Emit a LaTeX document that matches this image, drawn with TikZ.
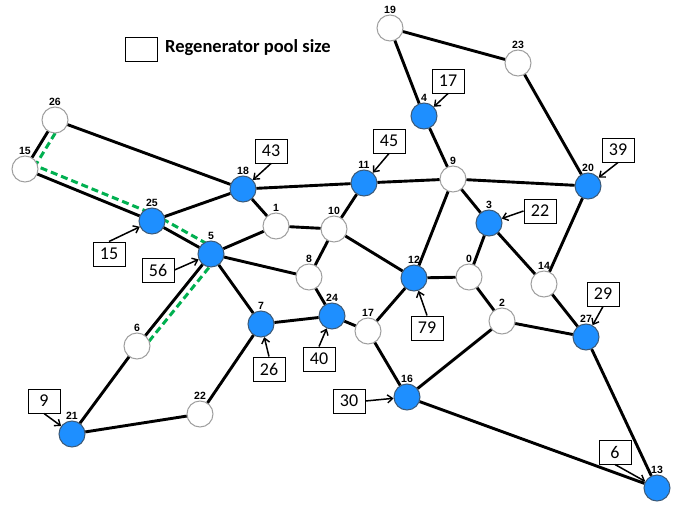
\documentclass[tikz,border=0pt]{standalone}
\usepackage{fontspec}
\setmainfont{Carlito}
\newfontfamily\labfont{Liberation Sans}
\usetikzlibrary{arrows.meta,calc}
\definecolor{nblue}{HTML}{1E8FFF}
\definecolor{nblueedge}{HTML}{3C5A78}
\definecolor{ngreen}{HTML}{00B050}
\tikzset{
  wnode/.style={circle,minimum size=26pt,inner sep=0pt,draw=gray!75,fill=white,line width=1pt,
     label={[label distance=0.5pt,inner sep=0pt,font=\labfont\bfseries\fontsize{10.5}{10.5}\selectfont]above:#1}},
  bnode/.style={circle,minimum size=26pt,inner sep=0pt,draw=nblueedge,fill=nblue,line width=1pt,
     label={[label distance=0.5pt,inner sep=0pt,font=\labfont\bfseries\fontsize{10.5}{10.5}\selectfont]above:#1}},
  pool/.style={rectangle,draw=black,line width=1pt,minimum width=32pt,minimum height=24pt,inner sep=0pt,
     font=\fontsize{18}{18}\selectfont},
  link/.style={line width=2.9pt,black},
  arr/.style={line width=1.5pt,-{Straight Barb[length=5pt,width=8pt,line width=1.4pt]}},
  gpath/.style={line width=3pt,ngreen,dash pattern=on 7pt off 4pt}
}
\begin{document}
\begin{tikzpicture}[x=1pt,y=-1pt]
\useasboundingbox (0,0) rectangle (686,506);
% green dashed path (under nodes)
\coordinate (g1) at (61,123.7);
\coordinate (g2) at (35.3,165.6);
\coordinate (g3) at (155,214.7);
\coordinate (g4) at (221.6,252);
\coordinate (g5) at (142.4,349.4);
\draw[gpath] (g1) -- (g2) -- (g3) -- (g4) -- (g5);
% nodes
\node[wnode=19] (n19) at (390,28) {};
\node[wnode=23] (n23) at (518,63) {};
\node[bnode=4]  (n4)  at (424,116) {};
\node[wnode=9]  (n9)  at (453,179) {};
\node[bnode=20] (n20) at (588,186) {};
\node[bnode=3]  (n3)  at (489,223) {};
\node[wnode=14] (n14) at (544,284) {};
\node[wnode=0]  (n0)  at (469,277) {};
\node[bnode=12] (n12) at (414,278) {};
\node[wnode=2]  (n2)  at (502,321) {};
\node[bnode=27] (n27) at (586,337) {};
\node[bnode=13] (n13) at (657,488) {};
\node[bnode=16] (n16) at (407,397) {};
\node[wnode=17] (n17) at (368,331) {};
\node[bnode=24] (n24) at (332,316) {};
\node[bnode=7]  (n7)  at (261,324) {};
\node[wnode=8]  (n8)  at (309,277) {};
\node[wnode=10] (n10) at (334,229) {};
\node[wnode=1]  (n1)  at (276,226) {};
\node[bnode=11] (n11) at (364,183) {};
\node[bnode=18] (n18) at (243,189) {};
\node[bnode=5]  (n5)  at (211,254) {};
\node[bnode=25] (n25) at (152,221) {};
\node[wnode=26] (n26) at (55,120) {};
\node[wnode=15] (n15) at (25,169) {};
\node[wnode=6]  (n6)  at (137,346) {};
\node[bnode=21] (n21) at (72,434) {};
\node[wnode=22] (n22) at (200,414) {};
% links
\foreach \a/\b in {19/4,19/23,23/20,4/9,9/20,9/11,9/3,9/12,20/14,3/0,3/14,14/27,0/12,0/2,2/27,2/16,27/13,16/13,16/17,17/12,17/24,24/7,24/8,8/10,8/5,10/11,10/12,10/1,1/5,1/18,18/11,18/25,18/26,25/15,25/5,26/15,5/7,5/6,6/21,21/22,22/7}
  \draw[link] (n\a) -- (n\b);
% pool boxes
\node[pool] (p43) at (271,151) {43};
\node[pool] (p45) at (389,141) {45};
\node[pool] (p15) at (109,254) {15};
\node[pool] (p56) at (158,270) {56};
\node[pool] (p17) at (448,81) {17};
\node[pool] (p39) at (618,150) {39};
\node[pool] (p22) at (540,211) {22};
\node[pool] (p29) at (603,294) {29};
\node[pool] (p79) at (427,328) {79};
\node[pool] (p40) at (319,359) {40};
\node[pool] (p30) at (349,401) {30};
\node[pool] (p6)  at (615,452) {6};
\node[pool] (p26) at (269,369) {26};
\node[pool] (p9)  at (44,401) {9};
% arrows
\draw[arr] (p43.south) -- (n18);
\draw[arr] (p45.south) -- (n11);
\draw[arr] (p15.north) -- (n25);
\draw[arr] (p56.east) -- (n5);
\draw[arr] (p17.south) -- (n4);
\draw[arr] (p39.south) -- (n20);
\draw[arr] (p22.west) -- (n3);
\draw[arr] (p29.south) -- (n27);
\draw[arr] (p79.north) -- (n12);
\draw[arr] (p40.north) -- (n24);
\draw[arr] (p30.east) -- (n16);
\draw[arr] (p6.south) -- (n13);
\draw[arr] (p26.north) -- (n7);
\draw[arr] (p9.south) -- (n21);
% legend
\node[pool] (leg) at (141,49) {};
\node[anchor=west,inner sep=0pt,font=\bfseries\fontsize{18.5}{18.5}\selectfont] (legtxt) at (165,48) {Regenerator pool size};
\end{tikzpicture}
\end{document}
